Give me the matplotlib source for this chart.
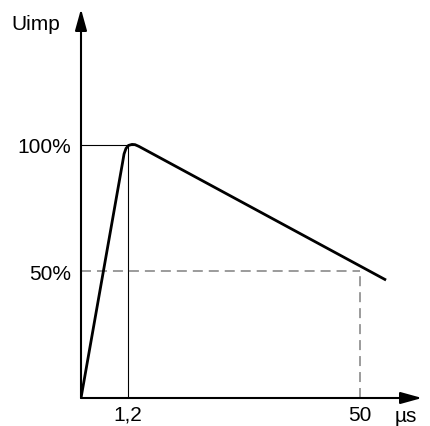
import matplotlib
matplotlib.use("Agg")
import matplotlib.pyplot as plt

plt.rcParams['font.family'] = ['Liberation Sans', 'DejaVu Sans']
plt.rcParams['lines.scale_dashes'] = False

# schematic impulse wave (x in schematic units, y in % of peak)
curve_x = [0.0, 7.44, 7.71, 8.06, 8.51, 9.14, 9.68, 10.39, 54.66]
curve_y = [0.0, 92.9, 96.4, 98.6, 99.8, 100.2, 100.1, 99.4, 46.6]
peak_x = 9.68
front_x = 8.42     # position of 1,2 µs
tail_x = 50.0      # position of 50 µs
x_ticks = [front_x, tail_x]
x_tick_labels = ['1,2', '50']
y_ticks = [50, 100]
y_tick_labels = ['50%', '100%']

W, H = 430, 427
fig = plt.figure(figsize=(W / 100, H / 100), dpi=100)
ax = fig.add_axes([81 / W, 28 / H, 341 / W, 389 / H])
xmax, ymax = 61.1, 153.7
ax.set_xlim(0, xmax)
ax.set_ylim(0, ymax)
for s in ax.spines.values():
    s.set_visible(False)

# axes with arrows
arrow = dict(arrowstyle='-|>,head_length=1.3,head_width=0.36', color='black',
             lw=1.5, mutation_scale=10, shrinkA=0, shrinkB=0)
ax.annotate('', xy=(xmax, 0), xytext=(0, 0), arrowprops=arrow, annotation_clip=False)
ax.annotate('', xy=(0, ymax), xytext=(0, 0), arrowprops=arrow, annotation_clip=False)

# guide lines
ax.plot([0, peak_x], [100, 100], color='black', lw=0.8)
ax.plot([front_x, front_x], [0, 100], color='black', lw=0.8)
ax.plot([0, tail_x], [50, 50], color='#808080', lw=1.1, dashes=(7.2, 4.3))
ax.plot([tail_x, tail_x], [0, 50], color='#808080', lw=1.1, dashes=(7.2, 4.3))

# main curve
ax.plot(curve_x, curve_y, color='black', lw=2.0, solid_joinstyle='round',
        solid_capstyle='butt')

ax.set_xticks(x_ticks, x_tick_labels)
ax.set_yticks(y_ticks, y_tick_labels)
ax.tick_params(length=0, labelsize=15)
ax.tick_params(axis='x', pad=5)
ax.tick_params(axis='y', pad=7)

ax.text(58.15, -9.1, 'µs', fontsize=15, ha='center', va='baseline')
ax.text(-8.1, 148.0, 'Uimp', fontsize=15, ha='center', va='center')

fig.savefig('out.png', dpi=100)
